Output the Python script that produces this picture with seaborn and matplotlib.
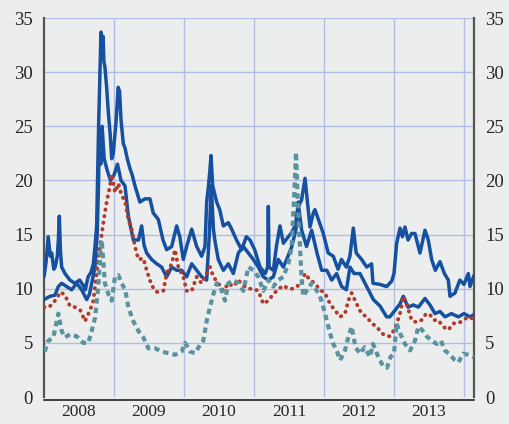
import numpy as np
import pandas as pd
import seaborn as sns
import matplotlib.pyplot as plt
from matplotlib.ticker import FixedLocator, NullFormatter, FixedFormatter

# upper dark blue series (fractional year, value)
blue1_x = [2008.00, 2008.03, 2008.06, 2008.09, 2008.11, 2008.14, 2008.16, 2008.19, 2008.205, 2008.219,
           2008.235, 2008.252, 2008.30, 2008.37, 2008.44, 2008.51, 2008.56, 2008.59, 2008.63, 2008.67,
           2008.705, 2008.73, 2008.752, 2008.765, 2008.78, 2008.80, 2008.814, 2008.83, 2008.845, 2008.855,
           2008.87, 2008.895, 2008.92, 2008.945, 2008.967, 2008.99, 2009.03, 2009.06, 2009.08, 2009.10,
           2009.133, 2009.157, 2009.19, 2009.228, 2009.26, 2009.30, 2009.37, 2009.44, 2009.514, 2009.56,
           2009.633, 2009.70, 2009.752, 2009.824, 2009.895, 2009.94, 2009.99, 2010.038, 2010.11, 2010.181,
           2010.252, 2010.30, 2010.324, 2010.35, 2010.371, 2010.386, 2010.41, 2010.467, 2010.51, 2010.562,
           2010.633, 2010.681, 2010.75, 2010.824, 2010.89, 2010.943, 2011.01, 2011.086, 2011.16, 2011.195,
           2011.205, 2011.215, 2011.276, 2011.32, 2011.371, 2011.42, 2011.49, 2011.54, 2011.586, 2011.633,
           2011.68, 2011.729, 2011.76, 2011.80, 2011.848, 2011.871, 2011.92, 2011.99, 2012.06, 2012.133,
           2012.20, 2012.25, 2012.319, 2012.37, 2012.419, 2012.46, 2012.538, 2012.61, 2012.68, 2012.70,
           2012.80, 2012.895, 2012.967, 2013.00, 2013.038, 2013.086, 2013.12, 2013.157, 2013.20, 2013.252,
           2013.30, 2013.371, 2013.443, 2013.49, 2013.538, 2013.59, 2013.657, 2013.72, 2013.776, 2013.80,
           2013.871, 2013.94, 2014.00, 2014.062, 2014.086, 2014.14]
blue1_y = [11.1, 12.5, 14.8, 13.0, 13.3, 11.8, 12.0, 13.0, 14.5, 16.7,
           13.5, 12.0, 11.4, 10.8, 10.5, 10.8, 10.3, 9.9, 11.1, 11.5,
           12.3, 14.0, 15.8, 20.0, 25.0, 30.0, 33.7, 32.5, 33.3, 31.0,
           30.5, 28.6, 26.2, 24.3, 22.0, 22.5, 25.5, 28.6, 28.2, 25.6,
           23.4, 23.0, 22.0, 21.1, 20.5, 19.5, 18.0, 18.3, 18.3, 17.0,
           16.4, 14.5, 13.6, 13.9, 15.8, 14.8, 12.7, 13.9, 15.5, 13.9,
           13.0, 13.9, 18.0, 19.5, 21.0, 22.3, 19.5, 18.0, 17.3, 15.8,
           16.1, 15.5, 14.5, 13.6, 14.8, 14.5, 13.6, 12.0, 11.4, 12.0,
           17.6, 12.0, 11.7, 13.9, 15.8, 14.2, 14.8, 15.2, 15.8, 17.6,
           18.2, 20.2, 18.2, 15.7, 17.0, 17.3, 16.4, 15.1, 13.3, 13.0,
           11.8, 12.7, 12.0, 13.0, 15.6, 13.3, 12.7, 12.0, 12.3, 10.5,
           10.4, 10.2, 10.7, 11.4, 14.2, 15.6, 14.8, 15.7, 14.5, 15.1,
           15.1, 13.3, 15.4, 14.5, 12.7, 11.7, 12.5, 11.4, 10.8, 9.3,
           9.6, 10.8, 10.4, 11.4, 10.2, 11.2]

# lower dark blue series
blue2_x = [2008.00, 2008.086, 2008.157, 2008.205, 2008.252, 2008.324, 2008.395, 2008.467, 2008.538, 2008.61,
           2008.65, 2008.681, 2008.729, 2008.76, 2008.78, 2008.79, 2008.81, 2008.83, 2008.86, 2008.90,
           2008.95, 2009.00, 2009.05, 2009.10, 2009.157, 2009.205, 2009.276, 2009.35, 2009.395, 2009.43,
           2009.467, 2009.538, 2009.61, 2009.68, 2009.752, 2009.824, 2009.895, 2009.967, 2010.038, 2010.11,
           2010.181, 2010.252, 2010.324, 2010.36, 2010.39, 2010.42, 2010.44, 2010.49, 2010.562, 2010.633,
           2010.705, 2010.776, 2010.848, 2010.919, 2010.99, 2011.062, 2011.133, 2011.205, 2011.276, 2011.348,
           2011.419, 2011.467, 2011.54, 2011.60, 2011.63, 2011.681, 2011.75, 2011.824, 2011.90, 2011.967,
           2012.04, 2012.11, 2012.18, 2012.252, 2012.32, 2012.371, 2012.43, 2012.514, 2012.61, 2012.705,
           2012.80, 2012.895, 2012.94, 2013.014, 2013.086, 2013.133, 2013.20, 2013.276, 2013.348, 2013.443,
           2013.514, 2013.586, 2013.657, 2013.729, 2013.82, 2013.919, 2014.00, 2014.086, 2014.14]
blue2_y = [9.0, 9.3, 9.4, 10.2, 10.5, 10.2, 9.9, 10.5, 9.9, 9.0,
           9.5, 10.5, 12.0, 15.0, 20.0, 24.5, 21.5, 25.0, 22.0, 21.0,
           20.0, 20.5, 21.5, 20.0, 19.5, 16.7, 14.5, 14.5, 15.8, 14.0,
           13.3, 12.7, 12.3, 12.0, 11.1, 12.0, 11.7, 11.7, 11.1, 12.3,
           11.7, 11.1, 10.8, 14.8, 19.5, 15.5, 14.5, 12.7, 11.7, 12.3,
           11.4, 13.3, 13.9, 13.3, 12.7, 12.0, 11.1, 10.8, 11.1, 12.7,
           12.0, 12.7, 13.9, 15.5, 18.0, 15.4, 13.9, 15.4, 13.3, 11.7,
           11.7, 10.8, 11.4, 10.2, 9.9, 12.0, 11.4, 11.4, 10.2, 9.0,
           8.4, 7.4, 7.4, 8.0, 8.6, 9.3, 8.3, 8.5, 8.3, 9.1,
           8.5, 7.7, 7.9, 7.4, 7.7, 7.4, 7.7, 7.4, 7.6]

# red dotted series
red_x = [2008.00, 2008.07, 2008.12, 2008.17, 2008.238, 2008.30, 2008.371, 2008.44, 2008.519, 2008.586,
         2008.657, 2008.705, 2008.752, 2008.80, 2008.848, 2008.895, 2008.943, 2008.967, 2009.014, 2009.062,
         2009.11, 2009.157, 2009.205, 2009.252, 2009.30, 2009.348, 2009.419, 2009.467, 2009.538, 2009.61,
         2009.705, 2009.752, 2009.824, 2009.871, 2009.919, 2009.99, 2010.038, 2010.11, 2010.181, 2010.252,
         2010.324, 2010.371, 2010.42, 2010.49, 2010.562, 2010.633, 2010.705, 2010.776, 2010.848, 2010.919,
         2010.99, 2011.062, 2011.133, 2011.205, 2011.276, 2011.357, 2011.42, 2011.49, 2011.56, 2011.633,
         2011.68, 2011.729, 2011.80, 2011.871, 2011.94, 2012.014, 2012.086, 2012.157, 2012.23, 2012.30,
         2012.35, 2012.395, 2012.466, 2012.538, 2012.61, 2012.681, 2012.752, 2012.824, 2012.871, 2012.94,
         2013.014, 2013.086, 2013.133, 2013.18, 2013.252, 2013.32, 2013.395, 2013.46, 2013.514, 2013.57,
         2013.633, 2013.70, 2013.776, 2013.85, 2013.919, 2013.99, 2014.062, 2014.14]
red_y = [8.3, 8.3, 8.6, 9.0, 9.7, 9.4, 8.4, 8.3, 8.0, 7.0,
         8.0, 8.9, 11.4, 13.9, 16.1, 18.0, 19.5, 20.6, 18.9, 19.7,
         18.6, 18.1, 16.4, 15.5, 13.9, 12.7, 12.8, 11.7, 10.3, 9.7,
         9.8, 11.4, 12.3, 13.6, 12.0, 11.1, 9.8, 9.8, 11.1, 10.5,
         11.4, 12.0, 11.1, 10.5, 9.8, 10.5, 10.2, 10.8, 10.3, 10.0,
         10.0, 9.8, 8.6, 8.9, 9.5, 10.0, 10.3, 10.0, 10.0, 10.3,
         10.5, 11.4, 10.8, 10.5, 9.9, 9.6, 8.6, 8.0, 7.4, 7.7,
         8.95, 9.6, 8.6, 7.7, 7.4, 6.8, 6.5, 5.9, 5.7, 5.6,
         6.3, 7.7, 9.3, 8.6, 7.1, 6.9, 7.1, 7.7, 7.6, 7.1,
         7.1, 6.5, 6.2, 6.8, 6.8, 7.1, 7.4, 7.2]

# teal dashed series
teal_x = [2008.01, 2008.062, 2008.133, 2008.205, 2008.252, 2008.30, 2008.371, 2008.467, 2008.562, 2008.633,
          2008.681, 2008.729, 2008.776, 2008.80, 2008.824, 2008.871, 2008.919, 2008.967, 2009.014, 2009.062,
          2009.133, 2009.157, 2009.205, 2009.276, 2009.348, 2009.419, 2009.49, 2009.586, 2009.681, 2009.776,
          2009.871, 2009.967, 2010.014, 2010.086, 2010.157, 2010.229, 2010.276, 2010.324, 2010.371, 2010.42,
          2010.467, 2010.52, 2010.586, 2010.633, 2010.705, 2010.776, 2010.848, 2010.919, 2010.99, 2011.062,
          2011.133, 2011.205, 2011.276, 2011.348, 2011.419, 2011.49, 2011.538, 2011.57, 2011.60, 2011.633,
          2011.657, 2011.681, 2011.705, 2011.76, 2011.824, 2011.89, 2011.943, 2011.99, 2012.038, 2012.086,
          2012.133, 2012.181, 2012.23, 2012.30, 2012.35, 2012.395, 2012.45, 2012.514, 2012.58, 2012.657,
          2012.70, 2012.776, 2012.84, 2012.90, 2012.95, 2013.00, 2013.038, 2013.086, 2013.157, 2013.23,
          2013.30, 2013.348, 2013.40, 2013.467, 2013.54, 2013.61, 2013.67, 2013.729, 2013.80, 2013.871,
          2013.92, 2013.99, 2014.062, 2014.14]
teal_y = [4.2, 5.2, 5.5, 7.7, 6.1, 5.5, 5.8, 5.6, 5.0, 5.0,
          6.1, 7.3, 10.2, 12.7, 14.5, 10.5, 9.5, 8.9, 11.1, 11.25,
          10.2, 10.0, 8.3, 7.0, 6.1, 5.5, 4.5, 4.5, 4.2, 4.05,
          3.9, 4.2, 5.0, 4.2, 4.05, 4.8, 5.2, 7.0, 8.3, 9.5,
          10.5, 10.2, 8.9, 10.5, 10.8, 10.5, 9.8, 12.0, 11.7, 11.1,
          9.8, 10.8, 10.2, 10.8, 11.1, 12.3, 13.9, 18.0, 22.6, 17.0,
          13.9, 10.8, 9.3, 9.9, 10.5, 9.9, 9.3, 8.3, 7.1, 5.9,
          4.9, 4.3, 3.4, 4.3, 5.6, 6.5, 4.6, 4.0, 4.6, 3.7,
          4.9, 3.7, 2.9, 2.7, 3.7, 4.0, 6.8, 5.9, 4.9, 4.3,
          5.2, 6.5, 6.2, 5.6, 5.2, 4.9, 5.2, 4.3, 3.9, 3.4,
          3.2, 4.0, 3.9, 3.7]

years = [2008, 2009, 2010, 2011, 2012, 2013]
y_ticks = [0, 5, 10, 15, 20, 25, 30, 35]

bg = "#eceeed"
grid_col = "#b3bce6"
dark_blue = "#1650a0"
red = "#b13a2b"
teal = "#5a92a0"

sns.set_style("white", {"axes.facecolor": bg, "figure.facecolor": bg})
plt.rcParams["font.family"] = ["Liberation Serif", "DejaVu Serif"]

fig = plt.figure(figsize=(5.09, 4.24), dpi=100)
ax = fig.add_axes([44 / 509, 1 - 397 / 424, 430 / 509, 379 / 424])

b1 = pd.DataFrame({"x": blue1_x, "y": blue1_y})
b2 = pd.DataFrame({"x": blue2_x, "y": blue2_y})
rd = pd.DataFrame({"x": red_x, "y": red_y})
tl = pd.DataFrame({"x": teal_x, "y": teal_y})

sns.lineplot(data=b2, x="x", y="y", ax=ax, color=dark_blue, lw=2.5, zorder=3)
sns.lineplot(data=b1, x="x", y="y", ax=ax, color=dark_blue, lw=2.5, zorder=3)
sns.lineplot(data=rd, x="x", y="y", ax=ax, color=red, lw=2.8, zorder=4,
             linestyle=(0, (0.1, 1.6)), dash_capstyle="round")
sns.lineplot(data=tl, x="x", y="y", ax=ax, color=teal, lw=3.0, zorder=5,
             linestyle=(0, (1.3, 1.0)))

ax.set_xlim(2008.0, 2014.143)
ax.set_ylim(0, 35)
ax.set_xlabel("")
ax.set_ylabel("")

# grid
for v in y_ticks[1:]:
    ax.axhline(v, color=grid_col, lw=1.0, zorder=1)
for yr in years[1:] + [2014]:
    ax.axvline(yr, color=grid_col, lw=1.0, zorder=1)

ax.set_yticks(y_ticks)
ax.tick_params(axis="y", length=0, labelsize=13.5, pad=8,
               left=True, right=True, labelleft=True, labelright=True)

ax.xaxis.set_major_locator(FixedLocator(years + [2014]))
ax.xaxis.set_major_formatter(NullFormatter())
ax.xaxis.set_minor_locator(FixedLocator([y + 0.5 for y in years]))
ax.xaxis.set_minor_formatter(FixedFormatter([str(y) for y in years]))
ax.tick_params(axis="x", which="major", direction="out", length=4, width=1.2, color="#222222")
ax.tick_params(axis="x", which="minor", length=0, labelsize=12.5, pad=3)

for s in ["left", "right"]:
    ax.spines[s].set_color("#555555")
    ax.spines[s].set_linewidth(1.6)
ax.spines["top"].set_visible(False)
ax.spines["bottom"].set_color("#222222")
ax.spines["bottom"].set_linewidth(1.2)
ax.spines["bottom"].set_position(("outward", 2))

fig.savefig("out.png", dpi=100, facecolor=bg)
